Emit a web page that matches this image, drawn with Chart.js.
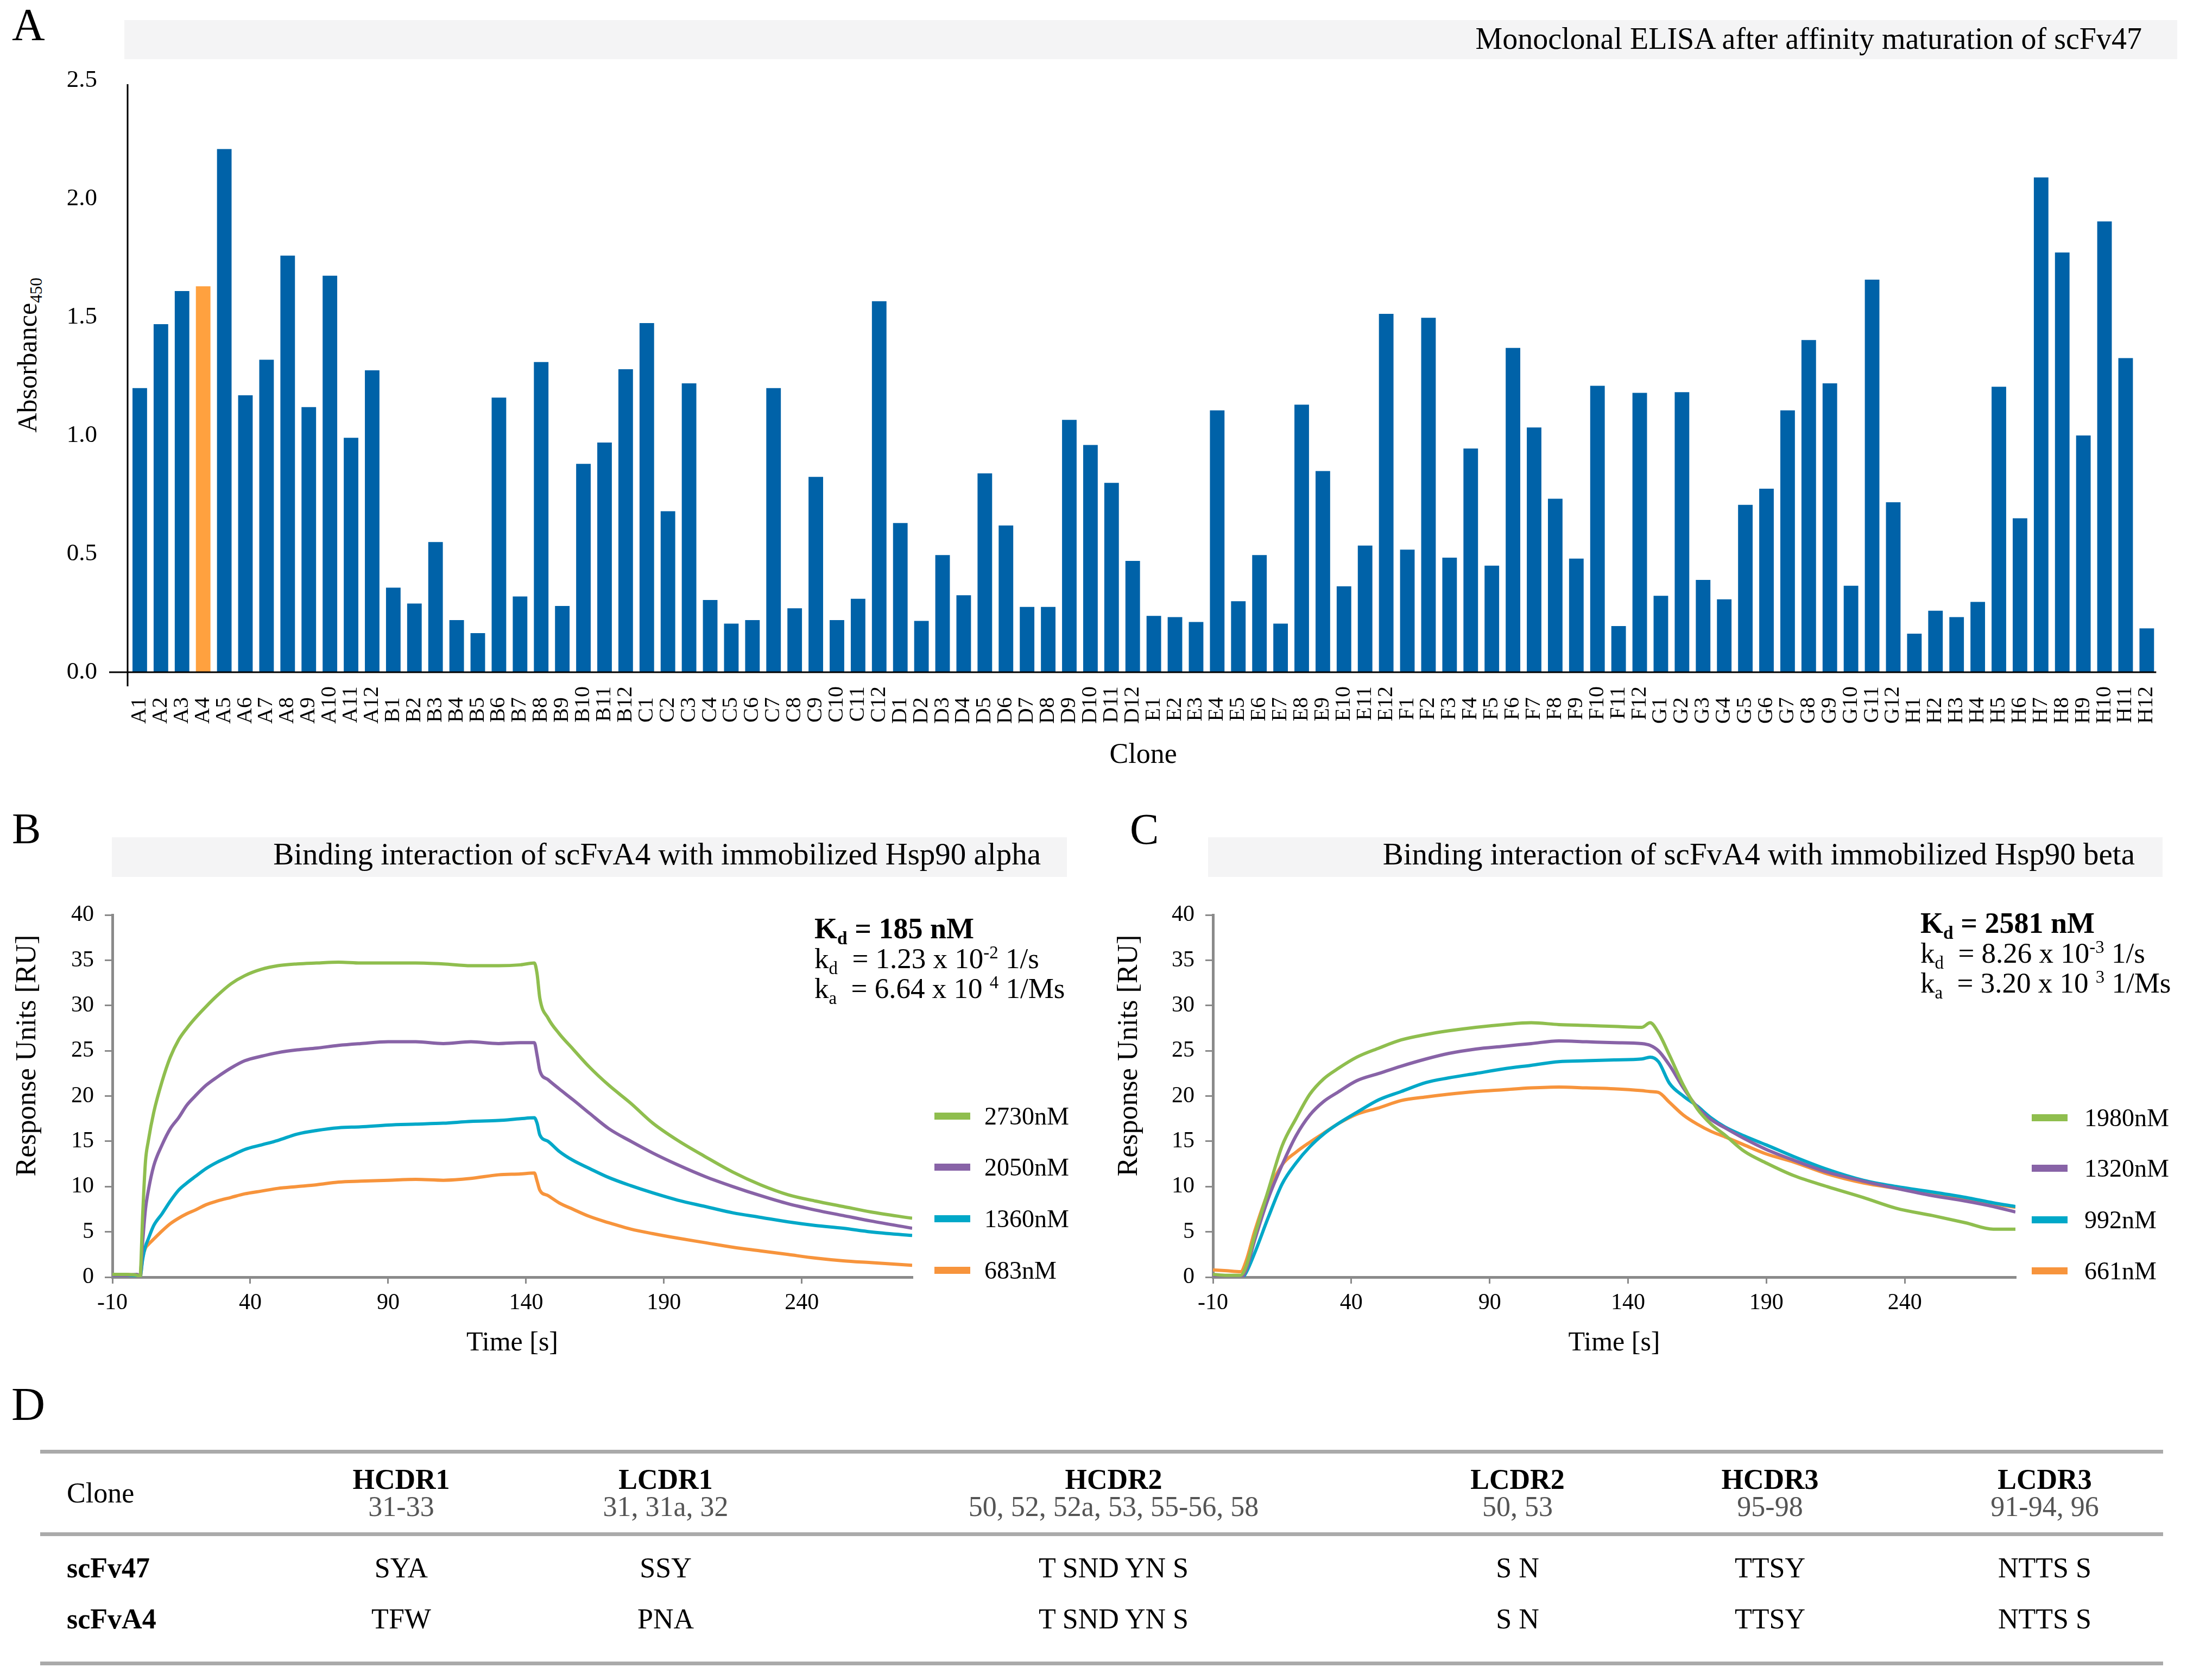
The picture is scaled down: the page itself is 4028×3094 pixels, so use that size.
<!DOCTYPE html>
<html>
<head>
<meta charset="utf-8">
<script src="https://cdn.jsdelivr.net/npm/chart.js@4.4.1/dist/chart.umd.min.js"></script>
<style>
  html, body { margin: 0; padding: 0; background: #fff; }
  body { width: 4028px; height: 3094px; position: relative; overflow: hidden;
         font-family: "Liberation Serif", "Times New Roman", serif; color: #000; }
  canvas { position: absolute; }
  .t { position: absolute; line-height: 1; white-space: nowrap; }
  .bar { position: absolute; background: #f4f4f5; }
  .rule { position: absolute; left: 74px; width: 3910px; height: 7px; background: #aaaaaa; }
  .c { transform: translateX(-50%); }
  .rot { transform: translate(-50%, -50%) rotate(-90deg); }
  sub { font-size: 0.62em; vertical-align: -0.32em; line-height: 0; }
  sup { font-size: 0.62em; vertical-align: 0.55em; line-height: 0; }
</style>
</head>
<body>

<div class="t" style="left:22px;top:4px;font-size:84px">A</div>
<div class="bar" style="left:229px;top:37px;width:3781px;height:72px"></div>
<div class="t" style="right:83px;top:43px;font-size:56px">Monoclonal ELISA after affinity maturation of scFv47</div>
<div class="t rot" style="left:50px;top:654px;font-size:50px">Absorbance<sub>450</sub></div>
<canvas id="chartA" width="4028" height="1423" style="left:0;top:0;width:4028px;height:1423px"></canvas>

<div class="t" style="left:22px;top:1486px;font-size:80px">B</div>
<div class="bar" style="left:206px;top:1542px;width:1759px;height:73px"></div>
<div class="t" style="right:2111px;top:1544px;font-size:57px">Binding interaction of scFvA4 with immobilized Hsp90 alpha</div>
<div class="t rot" style="left:48px;top:1944px;font-size:52px">Response Units [RU]</div>
<canvas id="chartB" width="2000" height="864" style="left:0;top:1640px;width:2000px;height:864px"></canvas>
<div class="t" style="left:1500px;top:1683px;font-size:54px;font-weight:bold">K<sub>d</sub> = 185 nM</div>
<div class="t" style="left:1500px;top:1739px;font-size:53px">k<sub>d</sub>&nbsp; = 1.23 x 10<sup>-2</sup> 1/s</div>
<div class="t" style="left:1500px;top:1794px;font-size:53px">k<sub>a</sub>&nbsp; = 6.64 x 10 <sup>4</sup> 1/Ms</div>
<div id="legendB"></div>

<div class="t" style="left:2081px;top:1487px;font-size:80px">C</div>
<div class="bar" style="left:2225px;top:1542px;width:1758px;height:73px"></div>
<div class="t" style="right:96px;top:1544px;font-size:57px">Binding interaction of scFvA4 with immobilized Hsp90 beta</div>
<div class="t rot" style="left:2077px;top:1944px;font-size:52px">Response Units [RU]</div>
<canvas id="chartC" width="1998" height="864" style="left:2030px;top:1640px;width:1998px;height:864px"></canvas>
<div class="t" style="left:3537px;top:1673px;font-size:54px;font-weight:bold">K<sub>d</sub> = 2581 nM</div>
<div class="t" style="left:3537px;top:1729px;font-size:53px">k<sub>d</sub>&nbsp; = 8.26 x 10<sup>-3</sup> 1/s</div>
<div class="t" style="left:3537px;top:1784px;font-size:53px">k<sub>a</sub>&nbsp; = 3.20 x 10 <sup>3</sup> 1/Ms</div>
<div id="legendC"></div>

<div class="t" style="left:21px;top:2543px;font-size:86px">D</div>
<div class="rule" style="top:2670px"></div>
<div class="rule" style="top:2822px"></div>
<div class="rule" style="top:3060px"></div>
<div id="table"></div>

<script>
// panel A: monoclonal ELISA
const clones = [
  'A1','A2','A3','A4','A5','A6','A7','A8','A9','A10','A11','A12',
  'B1','B2','B3','B4','B5','B6','B7','B8','B9','B10','B11','B12',
  'C1','C2','C3','C4','C5','C6','C7','C8','C9','C10','C11','C12',
  'D1','D2','D3','D4','D5','D6','D7','D8','D9','D10','D11','D12',
  'E1','E2','E3','E4','E5','E6','E7','E8','E9','E10','E11','E12',
  'F1','F2','F3','F4','F5','F6','F7','F8','F9','F10','F11','F12',
  'G1','G2','G3','G4','G5','G6','G7','G8','G9','G10','G11','G12',
  'H1','H2','H3','H4','H5','H6','H7','H8','H9','H10','H11','H12'
];
const absorbance = [
  1.20, 1.47, 1.61, 1.63, 2.21, 1.17, 1.32, 1.76, 1.12, 1.675, 0.99, 1.275,
  0.357, 0.29, 0.55, 0.22, 0.165, 1.16, 0.32, 1.31, 0.28, 0.88, 0.97, 1.28,
  1.475, 0.68, 1.22, 0.305, 0.205, 0.22, 1.20, 0.27, 0.825, 0.22, 0.31, 1.567,
  0.63, 0.217, 0.495, 0.325, 0.84, 0.62, 0.276, 0.276, 1.066, 0.96, 0.80, 0.47,
  0.238, 0.233, 0.212, 1.106, 0.30, 0.495, 0.205, 1.13, 0.85, 0.363, 0.535, 1.514,
  0.518, 1.497, 0.484, 0.945, 0.45, 1.37, 1.034, 0.733, 0.48, 1.21, 0.195, 1.18,
  0.323, 1.183, 0.39, 0.308, 0.707, 0.775, 1.106, 1.403, 1.22, 0.365, 1.658, 0.718,
  0.163, 0.26, 0.233, 0.297, 1.206, 0.65, 2.09, 1.773, 1.00, 1.904, 1.327, 0.185
];
const highlightClone = 'A4';
const absTicks = [0, 0.5, 1.0, 1.5, 2.0, 2.5];

// panels B and C: SPR sensorgrams
const timeTicks = [-10, 40, 90, 140, 190, 240];

const alphaConc = ['2730nM', '2050nM', '1360nM', '683nM'];
const alphaTime = [-10, -5, -1, 0, 1, 2, 3, 5, 8, 11, 14, 17, 20, 24, 28, 33, 38, 44, 50, 57, 64, 72, 80, 90,
  100, 110, 120, 130, 138, 143, 144, 145, 148, 152, 157, 163, 170, 178, 186, 195, 205, 215, 225, 235, 245, 255, 265, 280];
const alpha2730 = [0.3, 0.3, 0.2, 0.0, 7.0, 12.8, 15.0, 18.2, 21.6, 24.3, 26.2, 27.5, 28.6, 29.9, 31.1, 32.4, 33.3, 34.0, 34.4, 34.6, 34.7, 34.8, 34.7, 34.7,
  34.7, 34.6, 34.4, 34.4, 34.5, 34.7, 33.5, 30.8, 28.6, 26.9, 25.2, 23.2, 21.2, 19.2, 17.0, 15.1, 13.3, 11.6, 10.2, 9.1, 8.4, 7.8, 7.2, 6.5];
const alpha2050 = [0.2, 0.2, 0.3, 0.1, 4.0, 7.5, 9.5, 12.3, 14.6, 16.4, 17.6, 19.0, 20.0, 21.2, 22.1, 23.1, 23.9, 24.4, 24.8, 25.1, 25.3, 25.6, 25.8, 26.0,
  26.0, 25.8, 26.0, 25.8, 25.9, 25.9, 24.5, 22.8, 21.8, 20.8, 19.6, 18.1, 16.4, 15.0, 13.7, 12.4, 11.1, 10.0, 9.0, 8.1, 7.4, 6.8, 6.2, 5.4];
const alpha1360 = [0.2, 0.2, 0.1, 0.0, 2.0, 3.4, 4.2, 5.7, 7.0, 8.4, 9.6, 10.4, 11.1, 12.0, 12.7, 13.4, 14.1, 14.6, 15.1, 15.8, 16.2, 16.5, 16.6, 16.8,
  16.9, 17.0, 17.2, 17.3, 17.5, 17.6, 17.0, 15.7, 15.0, 13.9, 12.9, 12.0, 11.0, 10.1, 9.3, 8.5, 7.8, 7.1, 6.6, 6.1, 5.7, 5.4, 5.0, 4.6];
const alpha683 = [0.3, 0.3, 0.0, -0.2, 2.2, 3.2, 3.6, 4.2, 5.1, 5.9, 6.5, 7.0, 7.4, 8.0, 8.4, 8.8, 9.2, 9.5, 9.8, 10.0, 10.2, 10.5, 10.6, 10.7,
  10.8, 10.7, 10.9, 11.3, 11.4, 11.5, 10.6, 9.6, 9.0, 8.2, 7.5, 6.7, 6.0, 5.3, 4.8, 4.3, 3.8, 3.3, 2.9, 2.5, 2.1, 1.8, 1.6, 1.3];

const betaConc = ['1980nM', '1320nM', '992nM', '661nM'];
const betaTime = [-10, -5, 0, 2, 5, 10, 15, 20, 25, 30, 35, 42, 50, 58, 67, 75, 85, 95, 105, 115,
  125, 135, 145, 148, 151, 155, 160, 165, 170, 175, 182, 190, 200, 212, 225, 237, 250, 262, 272, 280];
const beta1980 = [0.3, 0.2, 0.2, 1.2, 4.5, 9.6, 14.5, 17.5, 20.2, 21.9, 23.0, 24.3, 25.3, 26.2, 26.8, 27.2, 27.6, 27.9, 28.1, 27.9,
  27.8, 27.7, 27.6, 28.1, 27.0, 24.5, 21.2, 18.6, 16.9, 15.7, 13.9, 12.6, 11.2, 10.0, 8.8, 7.6, 6.8, 6.0, 5.3, 5.3];
const beta1320 = [0.0, -0.1, -0.1, 0.8, 4.0, 8.7, 12.4, 15.6, 17.9, 19.4, 20.4, 21.7, 22.5, 23.3, 24.1, 24.7, 25.2, 25.5, 25.8, 26.1,
  26.0, 25.9, 25.8, 25.6, 25.0, 23.4, 20.9, 18.8, 17.4, 16.5, 15.3, 14.1, 12.9, 11.6, 10.6, 9.8, 9.0, 8.4, 7.8, 7.2];
const beta992 = [-0.1, -0.2, -0.2, 0.5, 2.6, 6.6, 10.3, 12.6, 14.4, 15.8, 16.9, 18.2, 19.6, 20.5, 21.5, 22.0, 22.5, 23.0, 23.4, 23.8,
  23.9, 24.0, 24.1, 24.3, 23.8, 21.4, 20.0, 18.9, 17.6, 16.6, 15.6, 14.6, 13.3, 11.9, 10.7, 10.0, 9.4, 8.8, 8.2, 7.8];
const beta661 = [0.8, 0.7, 0.6, 1.8, 5.0, 9.4, 12.4, 13.8, 14.9, 15.9, 16.9, 18.0, 18.7, 19.5, 19.9, 20.2, 20.5, 20.7, 20.9, 21.0,
  20.9, 20.8, 20.6, 20.5, 20.4, 19.3, 17.9, 16.9, 16.1, 15.5, 14.6, 13.6, 12.7, 11.4, 10.4, 9.8, 9.2, 8.5, 8.1, 7.7];

const curveColors = ['#8fbe4e', '#8863a7', '#00a8c8', '#f7943c'];

// panel D: CDR table
const tableHeads = ['HCDR1', 'LCDR1', 'HCDR2', 'LCDR2', 'HCDR3', 'LCDR3'];
const tableRanges = ['31-33', '31, 31a, 32', '50, 52, 52a, 53, 55-56, 58', '50, 53', '95-98', '91-94, 96'];
const tableClones = ['scFv47', 'scFvA4'];
const cdrScFv47 = ['SYA', 'SSY', 'T SND YN S', 'S N', 'TTSY', 'NTTS S'];
const cdrScFvA4 = ['TFW', 'PNA', 'T SND YN S', 'S N', 'TTSY', 'NTTS S'];

Chart.defaults.font.family = '"Liberation Serif", "Times New Roman", serif';
Chart.defaults.color = '#000';

const axisLinesA = {
  id: 'axisLinesA',
  afterDatasetsDraw(chart) {
    const { ctx, chartArea, scales } = chart;
    const top = scales.y.getPixelForValue(2.5) + 7;
    ctx.save();
    ctx.strokeStyle = '#000';
    ctx.lineWidth = 3;
    ctx.beginPath();
    ctx.moveTo(chartArea.left - 3, top);
    ctx.lineTo(chartArea.left - 3, chartArea.bottom + 26);
    ctx.moveTo(chartArea.left - 37, chartArea.bottom);
    ctx.lineTo(chartArea.right - 2, chartArea.bottom);
    ctx.stroke();
    ctx.restore();
  }
};

new Chart(document.getElementById('chartA'), {
  type: 'bar',
  data: {
    labels: clones,
    datasets: [{
      data: absorbance,
      backgroundColor: clones.map(c => c === highlightClone ? '#ffa13f' : '#0062a8'),
      barPercentage: 0.69,
      categoryPercentage: 1
    }]
  },
  options: {
    responsive: false,
    animation: false,
    devicePixelRatio: 1,
    layout: { padding: { left: 0, right: 23, top: 148, bottom: 0 } },
    plugins: { legend: { display: false }, tooltip: { enabled: false } },
    scales: {
      x: {
        grid: { display: false, drawTicks: false },
        border: { display: false },
        ticks: {
          autoSkip: false, maxRotation: 90, minRotation: 90, padding: 26,
          font: { size: 40 },
          callback: (v, i) => clones[i].length < 3 ? clones[i] + '\u2002' : clones[i]
        },
        title: { display: true, text: 'Clone', font: { size: 52 }, padding: 0 },
        afterFit: s => { s.height = 185; }
      },
      y: {
        min: 0, max: 2.5,
        grid: { display: false, drawTicks: false },
        border: { display: false },
        afterBuildTicks: s => { s.ticks = absTicks.map(v => ({ value: v })); },
        ticks: { padding: 59, font: { size: 45 }, callback: v => v.toFixed(1) },
        afterFit: s => { s.width = 238; }
      }
    }
  },
  plugins: [axisLinesA]
});

function sensorgram(id, time, series, yWidth, padRight) {
  new Chart(document.getElementById(id), {
    type: 'line',
    data: {
      datasets: series.map((vals, k) => ({
        data: vals.map((v, i) => ({ x: time[i], y: v })),
        borderColor: curveColors[k],
        borderWidth: 6,
        pointRadius: 0,
        cubicInterpolationMode: 'monotone',
        fill: false
      }))
    },
    options: {
      responsive: false,
      animation: false,
      devicePixelRatio: 1,
      layout: { padding: { left: 0, right: padRight, top: 38, bottom: 0 } },
      plugins: { legend: { display: false }, tooltip: { enabled: false } },
      scales: {
        x: {
          type: 'linear', min: -10, max: 280,
          afterBuildTicks: s => { s.ticks = timeTicks.map(v => ({ value: v })); },
          grid: { display: true, drawOnChartArea: false, drawTicks: true, tickLength: 12, color: '#8a8a8a', lineWidth: 3 },
          border: { display: true, color: '#8a8a8a', width: 5 },
          ticks: { font: { size: 42 }, padding: 11, maxRotation: 0 },
          title: { display: true, text: 'Time [s]', font: { size: 50 }, padding: 0 },
          afterFit: s => { s.height = 152; }
        },
        y: {
          min: 0, max: 40,
          grid: { display: true, drawOnChartArea: false, drawTicks: true, tickLength: 14, color: '#8a8a8a', lineWidth: 3 },
          border: { display: true, color: '#8a8a8a', width: 5 },
          ticks: { stepSize: 5, font: { size: 42 }, padding: 20 },
          afterFit: s => { s.width = yWidth; }
        }
      }
    }
  });
}

sensorgram('chartB', alphaTime, [alpha2730, alpha2050, alpha1360, alpha683], 207, 320);
sensorgram('chartC', betaTime, [beta1980, beta1320, beta992, beta661], 204, 316);

function legend(el, concs, swLeft, labelLeft, centers) {
  let html = '';
  concs.forEach((c, k) => {
    html += '<div style="position:absolute;left:' + swLeft + 'px;top:' + (centers[k] - 6) +
      'px;width:66px;height:13px;background:' + curveColors[k] + '"></div>';
    html += '<div class="t" style="left:' + labelLeft + 'px;top:' + (centers[k] + 16 - 38) +
      'px;font-size:46px">' + c + '</div>';
  });
  document.getElementById(el).innerHTML = html;
}
legend('legendB', alphaConc, 1721, 1813, [2055, 2149, 2244, 2339]);
legend('legendC', betaConc, 3742, 3839, [2058, 2151, 2246, 2340]);

// table D
const colCenters = [739, 1226, 2051, 2795, 3260, 3766];
let tab = '<div class="t" style="left:123px;top:2724px;font-size:52px">Clone</div>';
tableHeads.forEach((h, i) => {
  tab += '<div class="t c" style="left:' + colCenters[i] + 'px;top:2699px;font-size:52px;font-weight:bold">' + h + '</div>';
  tab += '<div class="t c" style="left:' + colCenters[i] + 'px;top:2749px;font-size:52px;color:#555">' + tableRanges[i] + '</div>';
});
[cdrScFv47, cdrScFvA4].forEach((row, r) => {
  const top = r === 0 ? 2862 : 2956;
  tab += '<div class="t" style="left:123px;top:' + top + 'px;font-size:52px;font-weight:bold">' + tableClones[r] + '</div>';
  row.forEach((v, i) => {
    tab += '<div class="t c" style="left:' + colCenters[i] + 'px;top:' + top + 'px;font-size:52px">' + v + '</div>';
  });
});
document.getElementById('table').innerHTML = tab;
</script>
</body>
</html>
